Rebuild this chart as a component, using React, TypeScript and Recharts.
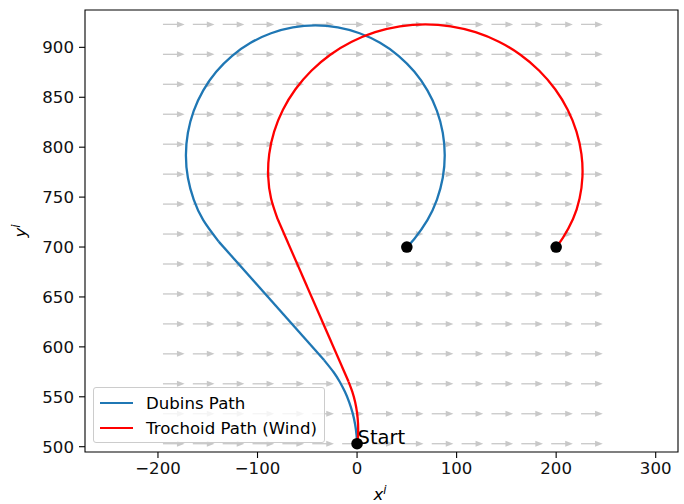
import React from 'react';
import { ComposedChart, XAxis, YAxis, Line, Scatter, ReferenceArea } from 'recharts';

const FONT = '"DejaVu Sans", sans-serif';

// Axis set-up
const X_DOMAIN: [number, number] = [-273.3, 322.4];
const Y_DOMAIN: [number, number] = [494.7, 937.4];
const X_TICKS = [-200, -100, 0, 100, 200, 300];
const Y_TICKS = [500, 550, 600, 650, 700, 750, 800, 850, 900];

// Series names
const DUBINS_NAME = 'Dubins Path';
const TROCHOID_NAME = 'Trochoid Path (Wind)';
const START_LABEL = 'Start';

// Dubins path: first turn, straight, second turn
const DUBINS_X = [0, -0.49, -1.98, -4.43, -7.84, -12.18, -17.42, -23.5, -32.95,
  -138.97, -154.5, -164.08, -169.94, -171.92, -169.94, -164.08, -154.5, -141.5, -125.48,
  -106.92, -86.38, -64.49, -41.92, -19.35, 2.54, 23.08, 41.64, 57.66, 70.66, 80.24, 86.1,
  88.08, 86.1, 80.24, 70.66, 57.66, 50.0];
const DUBINS_Y = [500, 511.33, 522.57, 533.64, 544.46, 554.94, 565.0, 574.57, 586.5,
  705.42, 726.92, 747.46, 769.35, 791.92, 814.49, 836.38, 856.92, 875.48, 891.5,
  904.5, 914.08, 919.94, 921.92, 919.94, 914.08, 904.5, 891.5, 875.48, 856.92, 836.38, 814.49,
  791.92, 769.35, 747.46, 726.92, 708.36, 700.0];
const DUBINS_BREAKS = [8, 9]; // end of first turn, start of second turn

// Trochoid path with wind
const TROCHOID_X = [0, 1.0, 1.0, 0.04, -1.88, -4.73, -8.48,
  -79.78, -86.38, -89.26, -88.26, -83.3, -74.45, -61.89, -45.91, -26.91, -5.37, 18.15,
  43.02, 68.57, 94.12, 118.99, 142.52, 164.06, 183.06, 199.04, 211.6, 220.44, 225.4,
  226.4, 223.52, 216.92, 206.91, 200.0];
const TROCHOID_Y = [500, 511.33, 522.57, 533.64, 544.46, 554.94, 565.0,
  728.0, 748.54, 770.43, 793.0, 815.57, 837.46, 858.0, 876.56, 892.58, 905.58, 915.16,
  921.02, 923.0, 921.02, 915.16, 905.58, 892.58, 876.56, 858.0, 837.46, 815.57, 793.0,
  770.43, 748.54, 728.0, 709.44, 700.0];
const TROCHOID_BREAKS = [6, 7];

// Wind field grid
const WIND_X = [-195, -165, -135, -105, -75, -45, -15, 15, 45, 75, 105, 135, 165, 195, 225];
const WIND_Y = [503, 533, 563, 593, 623, 653, 683, 713, 743, 773, 803, 833, 863, 893, 923];

// Start and goals
const START_X = [0];
const START_Y = [503];
const GOAL_X = [50, 200];
const GOAL_Y = [700, 700];

const zip = (xs: number[], ys: number[]) => xs.map((x, i) => ({ x, y: ys[i] }));
const split = (d: { x: number; y: number }[], b: number[]) => [
  d.slice(0, b[0] + 1),
  d.slice(b[0], b[1] + 1),
  d.slice(b[1]),
];
const DUBINS_PARTS = split(zip(DUBINS_X, DUBINS_Y), DUBINS_BREAKS);
const TROCHOID_PARTS = split(zip(TROCHOID_X, TROCHOID_Y), TROCHOID_BREAKS);
const WIND_DATA = WIND_Y.flatMap((y) => WIND_X.map((x) => ({ x, y })));
const START_DATA = zip(START_X, START_Y);
const GOAL_DATA = zip(GOAL_X, GOAL_Y);

const BLUE = '#1f77b4';
const RED = '#ff0000';
const ARROW = '#c8c8c8';
const TICK_FONT = 16.6;
const PART_TYPES: ('natural' | 'linear')[] = ['natural', 'linear', 'natural'];

const fmt = (v: number) => (v < 0 ? '\u2212' + Math.abs(v) : String(v));

const ArrowShape = (props: any) => {
  const { cx, cy } = props;
  if (cx == null || cy == null) return <g />;
  return (
    <g>
      <line x1={cx} y1={cy} x2={cx + 15} y2={cy} stroke={ARROW} strokeWidth={1.3} />
      <polygon points={`${cx + 14},${cy - 3} ${cx + 21.7},${cy} ${cx + 14},${cy + 3}`} fill={ARROW} />
    </g>
  );
};

const DotShape = (props: any) => {
  const { cx, cy } = props;
  if (cx == null || cy == null) return <g />;
  return <circle cx={cx} cy={cy} r={5.8} fill="#000" />;
};

const StartShape = (props: any) => {
  const { cx, cy } = props;
  if (cx == null || cy == null) return <g />;
  return (
    <g>
      <circle cx={cx} cy={cy} r={5.8} fill="#000" />
      <text x={cx + 0.5} y={cy} fontFamily={FONT} fontSize={19.5} fill="#000">{START_LABEL}</text>
    </g>
  );
};

export default function App() {
  return (
    <div style={{ position: 'absolute', left: 0, top: 0, width: 684, height: 504, background: '#fff' }}>
      <ComposedChart width={684} height={504} margin={{ top: 10, right: 6, bottom: 0, left: 0 }}>
        <XAxis
          type="number"
          dataKey="x"
          domain={X_DOMAIN}
          ticks={X_TICKS}
          allowDataOverflow
          interval={0}
          height={52}
          axisLine={false}
          tickLine={{ stroke: '#000', strokeWidth: 1.1 }}
          tickSize={6}
          tickMargin={4}
          tick={{ fill: '#111', fontSize: TICK_FONT, fontFamily: FONT }}
          tickFormatter={fmt}
        />
        <YAxis
          type="number"
          dataKey="y"
          domain={Y_DOMAIN}
          ticks={Y_TICKS}
          allowDataOverflow
          interval={0}
          width={85}
          axisLine={false}
          tickLine={{ stroke: '#000', strokeWidth: 1.1 }}
          tickSize={6}
          tickMargin={5}
          tick={{ fill: '#111', fontSize: TICK_FONT, fontFamily: FONT }}
          tickFormatter={fmt}
        />
        <Scatter data={WIND_DATA} shape={ArrowShape} isAnimationActive={false} zIndex={350} />
        {DUBINS_PARTS.map((part, i) => (
          <Line key={'d' + i} data={part} dataKey="y" name={DUBINS_NAME} type={PART_TYPES[i]} stroke={BLUE} strokeWidth={2.3} dot={false} activeDot={false} isAnimationActive={false} />
        ))}
        {TROCHOID_PARTS.map((part, i) => (
          <Line key={'t' + i} data={part} dataKey="y" name={TROCHOID_NAME} type={PART_TYPES[i]} stroke={RED} strokeWidth={2.3} dot={false} activeDot={false} isAnimationActive={false} />
        ))}
        <Scatter data={GOAL_DATA} shape={DotShape} isAnimationActive={false} />
        <Scatter data={START_DATA} shape={StartShape} isAnimationActive={false} />
        <ReferenceArea x1={X_DOMAIN[0]} x2={X_DOMAIN[1]} y1={Y_DOMAIN[0]} y2={Y_DOMAIN[1]} fill="none" fillOpacity={0} stroke="#000" strokeWidth={1.1} ifOverflow="visible" />
      </ComposedChart>
      <svg width={684} height={504} style={{ position: 'absolute', left: 0, top: 0, pointerEvents: 'none' }}>
        <text x={380} y={500} textAnchor="middle" fontFamily={FONT} fontSize={TICK_FONT} fontStyle="italic" fill="#000">
          x<tspan fontSize={11.6} dy={-6.5}>i</tspan>
        </text>
        <text transform="translate(26,231) rotate(-90)" textAnchor="middle" fontFamily={FONT} fontSize={TICK_FONT} fontStyle="italic" fill="#000">
          y<tspan fontSize={11.6} dy={-6.5}>i</tspan>
        </text>
      </svg>
      <div
        style={{
          position: 'absolute', left: 93, top: 387, width: 232, height: 56,
          border: '1px solid #cccccc', borderRadius: 3, background: 'rgba(255,255,255,0.8)',
          fontFamily: FONT, fontSize: TICK_FONT, color: '#000', boxSizing: 'border-box',
        }}
      >
        {[{ name: DUBINS_NAME, color: BLUE }, { name: TROCHOID_NAME, color: RED }].map((it, i) => (
          <div key={it.name} style={{ position: 'absolute', left: 6, top: 5 + i * 25, height: 20, display: 'flex', alignItems: 'center', whiteSpace: 'nowrap' }}>
            <div style={{ width: 33, height: 2.3, background: it.color, marginRight: 13 }} />
            <span>{it.name}</span>
          </div>
        ))}
      </div>
    </div>
  );
}
